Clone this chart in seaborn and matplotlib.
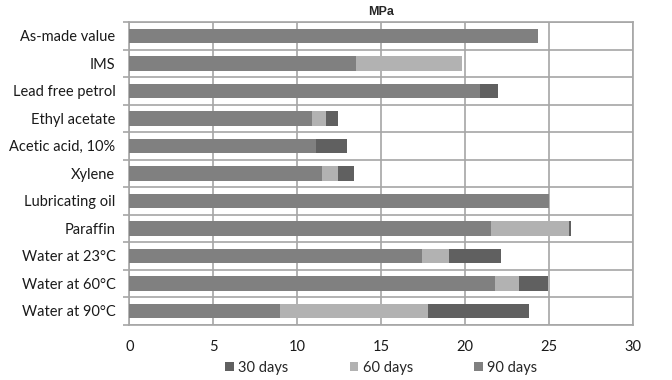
import pandas as pd
import matplotlib.pyplot as plt
import seaborn as sns
from matplotlib.ticker import FixedLocator

media = ["As-made value", "IMS", "Lead free petrol", "Ethyl acetate",
         "Acetic acid, 10%", "Xylene", "Lubricating oil", "Paraffin",
         "Water at 23°C", "Water at 60°C", "Water at 90°C"]

days_30 = [24.3, 19.8, 21.95, 12.4, 12.95, 13.35, 25.0, 26.3, 22.15, 24.95, 23.8]
days_60 = [24.3, 19.8, 20.9, 11.7, 11.1, 12.4, 25.0, 26.15, 19.05, 23.2, 17.8]
days_90 = [24.3, 13.5, 20.9, 10.9, 11.1, 11.5, 25.0, 21.55, 17.4, 21.75, 9.0]

series = ["30 days", "60 days", "90 days"]
colours = ["#606060", "#b2b2b2", "#808080"]

df = pd.DataFrame({"Medium": media, "30 days": days_30,
                   "60 days": days_60, "90 days": days_90})

sns.set_theme(style="white")
plt.rcParams["font.family"] = ["Lato", "DejaVu Sans"]

fig = plt.figure(figsize=(6.72, 3.80), dpi=100)
ax = fig.add_axes([0.1924, 0.1455, 0.75, 0.7965])

# overlapping bars, longest (30 days) at the back
for name, col in zip(series, colours):
    sns.barplot(data=df, x=name, y="Medium", order=media, color=col,
                width=0.53, errorbar=None, label=name, ax=ax,
                saturation=1, linewidth=0, zorder=3)

ax.set_xlim(0, 30)
ax.set_xticks(range(0, 31, 5))
ax.set_xlabel("")
ax.set_ylabel("")
ax.set_title("MPa", fontsize=9, fontweight="bold", pad=5,
             family=["Liberation Sans", "DejaVu Sans"])

# gridlines: vertical every 5, horizontal between categories
ax.yaxis.set_minor_locator(FixedLocator([i - 0.5 for i in range(len(media) + 1)]))
ax.grid(axis="x", which="major", color="#a6a6a6", linewidth=1.2, zorder=0)
ax.grid(axis="y", which="minor", color="#a6a6a6", linewidth=1.2, zorder=0)
ax.grid(axis="y", which="major", visible=False)
ax.tick_params(axis="y", which="major", length=0, labelsize=10.5, pad=10, colors="#1a1a1a")
ax.tick_params(axis="y", which="minor", length=4, width=1.2, color="#a6a6a6", left=True)
ax.tick_params(axis="x", length=0, labelsize=10.5, pad=11, colors="#1a1a1a")
for s in ax.spines.values():
    s.set_color("#a6a6a6")
    s.set_linewidth(1.2)

handles, labels = ax.get_legend_handles_labels()
ax.legend(handles, labels, loc="center", bbox_to_anchor=(0.5, -0.143),
          ncol=3, frameon=False, fontsize=10.5, handlelength=0.6,
          handleheight=0.6, handletextpad=0.3, columnspacing=4.2)

plt.savefig("out.png", dpi=100)
plt.close()
